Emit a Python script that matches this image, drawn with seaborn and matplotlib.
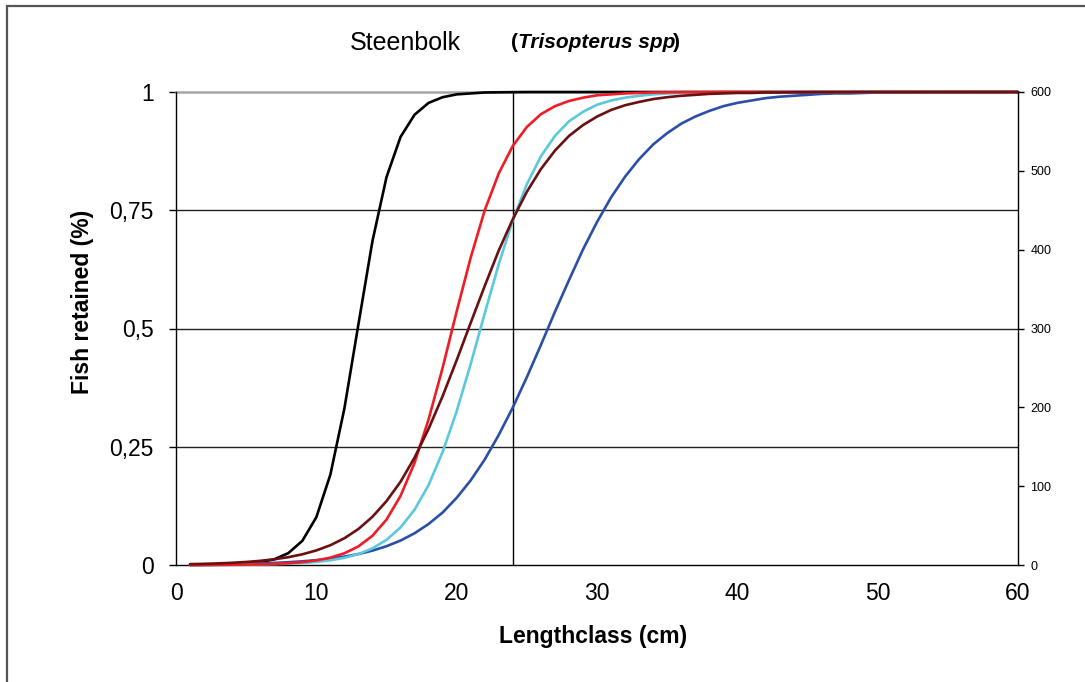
import numpy as np
import pandas as pd
import matplotlib
matplotlib.use("Agg")
import matplotlib.pyplot as plt
import seaborn as sns
from matplotlib.patches import Rectangle

# ---------------- data ----------------
length_cm = list(range(1, 61))

black = [0.000, 0.0003, 0.0006, 0.0013, 0.0028, 0.0058, 0.012, 0.025, 0.051, 0.101,
         0.191, 0.331, 0.509, 0.685, 0.820, 0.905, 0.952, 0.977, 0.989, 0.995,
         0.997, 0.999, 0.9994, 0.9997] + [1.0] * 36

red = [0.0001, 0.0002, 0.0003, 0.0006, 0.0009, 0.0015, 0.0023, 0.0038, 0.006, 0.0097,
       0.0155, 0.0248, 0.0393, 0.0618, 0.096, 0.146, 0.216, 0.308, 0.417, 0.536,
       0.650, 0.750, 0.828, 0.886, 0.926, 0.953, 0.970, 0.981, 0.988, 0.993,
       0.995, 0.997, 0.998, 0.999, 0.9993, 0.9996, 0.9997, 0.9998] + [1.0] * 22

cyan = [0.0001, 0.0002, 0.0003, 0.0005, 0.0008, 0.0012, 0.0018, 0.0028, 0.0042, 0.0065,
        0.0099, 0.0152, 0.0232, 0.0352, 0.0531, 0.0794, 0.117, 0.169, 0.239, 0.325,
        0.425, 0.532, 0.636, 0.729, 0.805, 0.864, 0.907, 0.938, 0.958, 0.973,
        0.982, 0.988, 0.992, 0.995, 0.997, 0.998, 0.999, 0.9991, 0.9994, 0.9996,
        0.9997, 0.9998] + [1.0] * 18

brown = [0.0018, 0.0025, 0.0034, 0.0047, 0.0064, 0.0088, 0.0121, 0.0165, 0.0226, 0.0308,
         0.0418, 0.0566, 0.0761, 0.102, 0.135, 0.176, 0.227, 0.288, 0.357, 0.433,
         0.512, 0.590, 0.665, 0.731, 0.789, 0.837, 0.876, 0.907, 0.930, 0.948,
         0.962, 0.972, 0.979, 0.985, 0.989, 0.992, 0.994, 0.996, 0.997, 0.998,
         0.998, 0.999, 0.999, 0.9994, 0.9995, 0.9997, 0.9997, 0.9998, 0.9999] + [1.0] * 11

blue = [0.0009, 0.0011, 0.0015, 0.0020, 0.0026, 0.0034, 0.0045, 0.0059, 0.0078, 0.0102,
        0.0135, 0.0177, 0.0232, 0.0304, 0.0397, 0.0517, 0.0671, 0.0867, 0.111, 0.142,
        0.179, 0.223, 0.275, 0.333, 0.397, 0.465, 0.535, 0.602, 0.667, 0.725,
        0.777, 0.821, 0.858, 0.889, 0.913, 0.933, 0.948, 0.960, 0.970, 0.977,
        0.982, 0.987, 0.990, 0.992, 0.994, 0.996, 0.997, 0.997, 0.998, 0.999,
        0.9989, 0.9991, 0.9994, 0.9995, 0.9996, 0.9997, 0.9998, 0.9998, 0.9999, 0.9999]

series_names = ["black", "blue", "cyan", "red", "brown"]
series_values = [black, blue, cyan, red, brown]
series_colors = {"black": "#000000", "blue": "#2B4FA8", "cyan": "#5CC8DC",
                 "red": "#EE1C25", "brown": "#6A1010"}

min_length = 24          # vertical reference line (cm)

x_ticks = [0, 10, 20, 30, 40, 50, 60]
y_ticks = [0, 0.25, 0.5, 0.75, 1]
y_tick_labels = ["0", "0,25", "0,5", "0,75", "1"]
y2_ticks = [0, 100, 200, 300, 400, 500, 600]

title_main = "Steenbolk"
title_species = "Trisopterus spp"
x_label = "Lengthclass (cm)"
y_label = "Fish retained (%)"

# ---------------- build table ----------------
rows = []
for name, vals in zip(series_names, series_values):
    for x, v in zip(length_cm, vals):
        rows.append({"length": x, "retained": v, "series": name})
df = pd.DataFrame(rows)

# ---------------- figure ----------------
sns.set_style("white")
plt.rcParams["font.family"] = ["Liberation Sans", "DejaVu Sans"]
plt.rcParams.update({"text.color": "black", "axes.labelcolor": "black",
                     "xtick.color": "black", "ytick.color": "black"})

W, H = 1085, 682
fig = plt.figure(figsize=(W / 100, H / 100), dpi=100)
fig.patch.set_facecolor("white")

# outer frame
fig.add_artist(Rectangle((7 / W, -0.02), 1.05, 1 - 6 / H + 0.02, transform=fig.transFigure,
                         fill=False, edgecolor="#555555", linewidth=1.6))

L, R, T, B = 176, 1018, 92, 565
ax = fig.add_axes([L / W, 1 - B / H, (R - L) / W, (B - T) / H])

# grid lines
for yv in y_ticks[1:-1]:
    ax.axhline(yv, color="#222222", lw=1.0, zorder=1)
ax.axhline(1.0, color="#A6A6A6", lw=1.8, zorder=1, clip_on=False)
ax.axvline(min_length, color="#000000", lw=1.0, zorder=1)

sns.lineplot(data=df, x="length", y="retained", hue="series", hue_order=series_names,
             palette=series_colors, linewidth=1.9, legend=False, ax=ax, zorder=3)
for ln in ax.lines[-len(series_names):]:
    ln.set_clip_on(False)
    ln.set_solid_joinstyle("round")
    ln.set_solid_capstyle("round")

ax.set_xlim(0, 60)
ax.set_ylim(0, 1)
ax.set_xticks(x_ticks)
ax.set_xticklabels([str(t) for t in x_ticks])
ax.set_yticks(y_ticks)
ax.set_yticklabels(y_tick_labels)
ax.tick_params(axis="x", direction="out", length=5, width=1, pad=7, labelsize=16.5,
               color="black", labelcolor="black")
ax.tick_params(axis="y", direction="out", length=5, width=1, pad=11, labelsize=16.5,
               color="black", labelcolor="black")
ax.set_xlabel("")
ax.set_ylabel("")

for s in ["top", "right"]:
    ax.spines[s].set_visible(False)
for s in ["left", "bottom"]:
    ax.spines[s].set_color("black")
    ax.spines[s].set_linewidth(1.0)

ax2 = ax.twinx()
ax2.set_ylim(0, 600)
ax2.set_yticks(y2_ticks)
ax2.set_yticklabels([str(t) for t in y2_ticks])
ax2.tick_params(axis="y", direction="out", length=4, width=1, pad=5, labelsize=9,
                color="black", labelcolor="black")
for s in ["top", "left", "bottom"]:
    ax2.spines[s].set_visible(False)
ax2.spines["right"].set_color("black")
ax2.spines["right"].set_linewidth(1.0)

# axis labels
fig.text(593 / W, 1 - 636 / H, x_label, ha="center", va="center",
         fontsize=16.5, fontweight="bold", color="black")
fig.text(83 / W, 1 - 302 / H, y_label, ha="center", va="center", rotation=90,
         fontsize=16.5, fontweight="bold", color="black")

# title
fig.text(405 / W, 1 - 50 / H, title_main, ha="center", va="baseline", fontsize=18,
         color="black")
fig.canvas.draw()
renderer = fig.canvas.get_renderer()
x0 = 511 / W
t1 = fig.text(x0, 1 - 48 / H, "(", ha="left", va="baseline", fontsize=15,
              fontweight="bold", color="black")
bb = t1.get_window_extent(renderer)
t2 = fig.text(bb.x1 / W, 1 - 48 / H, title_species, ha="left", va="baseline", fontsize=15,
              fontweight="bold", fontstyle="italic", color="black")
bb2 = t2.get_window_extent(renderer)
fig.text((bb2.x1 - 2) / W, 1 - 48 / H, ")", ha="left", va="baseline", fontsize=15,
         fontweight="bold", color="black")

fig.savefig("out.png", dpi=100, facecolor="white")
